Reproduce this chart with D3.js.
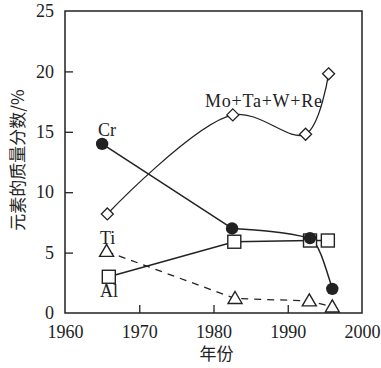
<!DOCTYPE html>
<html>
<head>
<meta charset="utf-8">
<script src="https://cdn.jsdelivr.net/npm/d3@7"></script>
<style>
  html, body { margin: 0; padding: 0; background: #fff; }
  svg { display: block; }
  .tick-label { font-family: "Liberation Serif", "DejaVu Serif", serif; font-size: 18px; fill: #222; }
  .series-label { font-family: "Liberation Serif", "DejaVu Serif", serif; font-size: 18px; fill: #222; }
  .axis-title { font-family: "Noto Sans CJK SC", sans-serif; font-size: 17px; fill: #222; }
</style>
</head>
<body>
<div id="chart"></div>
<script>
// data
const xTicks = [1960, 1970, 1980, 1990, 2000];
const yTicks = [0, 5, 10, 15, 20, 25];

const crYears = [1965, 1982.5, 1993, 1996];
const crValues = [14, 7, 6.2, 2];

const moYears = [1965.7, 1982.6, 1992.4, 1995.5];
const moValues = [8.2, 16.4, 14.8, 19.8];

const tiYears = [1965.6, 1982.9, 1992.9, 1996];
const tiValues = [5.1, 1.2, 1.0, 0.5];

const alYears = [1965.9, 1982.8, 1993, 1995.4];
const alValues = [3.0, 5.9, 6.0, 6.0];

const W = 381, H = 368;
const margin = { left: 65, right: 19, top: 11, bottom: 55 };

const svg = d3.select('#chart').append('svg').attr('width', W).attr('height', H);

const x = d3.scaleLinear().domain([1960, 2000]).range([margin.left, W - margin.right]);
const y = d3.scaleLinear().domain([0, 25]).range([H - margin.bottom, margin.top]);

const ink = '#222';

// frame
svg.append('rect')
    .attr('x', x(1960)).attr('y', y(25))
    .attr('width', x(2000) - x(1960)).attr('height', y(0) - y(25))
    .attr('fill', 'none').attr('stroke', ink).attr('stroke-width', 1.5);

// inward ticks
const xAxis = d3.axisBottom(x).tickValues(xTicks).tickSize(-8).tickSizeOuter(0).tickFormat(d3.format('d')).tickPadding(12);
const gx = svg.append('g').attr('transform', `translate(0,${y(0)})`).call(xAxis);
gx.select('.domain').remove();
gx.selectAll('.tick line').attr('stroke', ink).attr('stroke-width', 1.3)
    .attr('opacity', d => (d === 1960 || d === 2000) ? 0 : 1);
gx.selectAll('.tick text').attr('class', 'tick-label').attr('font-size', null).attr('font-family', null).attr('fill', null);

const yAxis = d3.axisLeft(y).tickValues(yTicks).tickSize(-8).tickSizeOuter(0).tickPadding(11);
const gy = svg.append('g').attr('transform', `translate(${x(1960)},0)`).call(yAxis);
gy.select('.domain').remove();
gy.selectAll('.tick line').attr('stroke', ink).attr('stroke-width', 1.3)
    .attr('opacity', d => (d === 0 || d === 25) ? 0 : 1);
gy.selectAll('.tick text').attr('class', 'tick-label').attr('font-size', null).attr('font-family', null).attr('fill', null);

// axis titles
svg.append('text').attr('class', 'axis-title')
    .attr('x', (x(1960) + x(2000)) / 2 + 3).attr('y', 360)
    .attr('text-anchor', 'middle').text('年份');

svg.append('text').attr('class', 'axis-title')
    .attr('transform', `translate(24,${(y(0) + y(25)) / 2 - 2}) rotate(-90)`)
    .attr('text-anchor', 'middle').text('元素的质量分数/%');

function pts(years, vals) { return years.map((d, i) => [d, vals[i]]); }

const cr = pts(crYears, crValues);
const mo = pts(moYears, moValues);
const ti = pts(tiYears, tiValues);
const al = pts(alYears, alValues);

const lineLinear = d3.line().x(d => x(d[0])).y(d => y(d[1]));
const lineSmooth = d3.line().x(d => x(d[0])).y(d => y(d[1])).curve(d3.curveCatmullRom.alpha(0.5));
const lineMono = d3.line().x(d => x(d[0])).y(d => y(d[1])).curve(d3.curveMonotoneX);

svg.append('path').attr('d', lineSmooth(mo)).attr('fill', 'none').attr('stroke', ink).attr('stroke-width', 1.3);
// Cr: straight drop first, then a smooth tail
svg.append('path').attr('d', lineLinear(cr.slice(0, 2))).attr('fill', 'none').attr('stroke', ink).attr('stroke-width', 1.5);
svg.append('path').attr('d', lineMono(cr.slice(1))).attr('fill', 'none').attr('stroke', ink).attr('stroke-width', 1.5);
svg.append('path').attr('d', lineLinear(al)).attr('fill', 'none').attr('stroke', ink).attr('stroke-width', 1.5);
svg.append('path').attr('d', lineLinear(ti)).attr('fill', 'none').attr('stroke', ink).attr('stroke-width', 1.3)
    .attr('stroke-dasharray', '7,6');

// markers
svg.selectAll('.al').data(al).join('rect')
    .attr('x', d => x(d[0]) - 6.5).attr('y', d => y(d[1]) - 6.5)
    .attr('width', 13).attr('height', 13)
    .attr('fill', '#fff').attr('stroke', ink).attr('stroke-width', 1.4);

svg.selectAll('.cr').data(cr).join('circle')
    .attr('cx', d => x(d[0])).attr('cy', d => y(d[1])).attr('r', 6.2)
    .attr('fill', ink);

svg.selectAll('.mo').data(mo).join('path')
    .attr('transform', d => `translate(${x(d[0])},${y(d[1])})`)
    .attr('d', 'M0,-6L6,0L0,6L-6,0Z')
    .attr('fill', '#fff').attr('stroke', ink).attr('stroke-width', 1.3);

svg.selectAll('.ti').data(ti).join('path')
    .attr('transform', d => `translate(${x(d[0])},${y(d[1])})`)
    .attr('d', 'M0,-7L7,5L-7,5Z')
    .attr('fill', '#fff').attr('stroke', ink).attr('stroke-width', 1.4);

// series labels
svg.append('text').attr('class', 'series-label').attr('x', 98).attr('y', 136).text('Cr');
svg.append('text').attr('class', 'series-label').attr('x', 100).attr('y', 244).text('Ti');
svg.append('text').attr('class', 'series-label').attr('x', 100).attr('y', 297).text('Al');
svg.append('text').attr('class', 'series-label').attr('x', 205).attr('y', 107)
    .attr('textLength', 117).text('Mo+Ta+W+Re');
</script>
</body>
</html>
